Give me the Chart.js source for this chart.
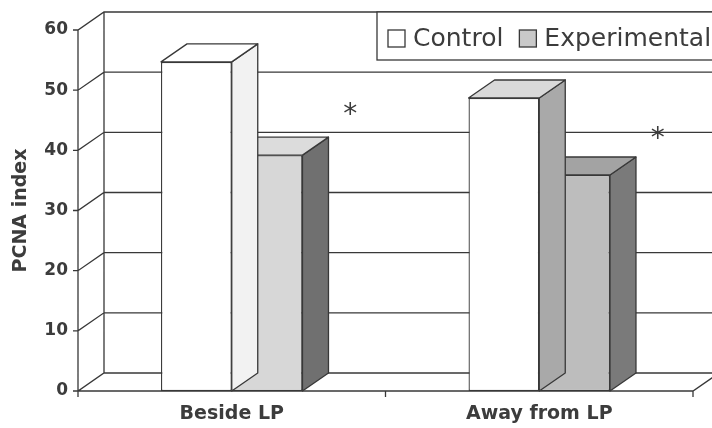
<!DOCTYPE html>
<html>
<head>
<meta charset="utf-8">
<script src="https://cdn.jsdelivr.net/npm/chart.js@4/dist/chart.umd.min.js"></script>
<style>
  body { margin: 0; background: #fff; }
  canvas { display: block; }
</style>
</head>
<body>
<canvas id="chart" width="712" height="428"></canvas>
<script>
// Data
const categories = ['Beside LP', 'Away from LP'];
const seriesNames = ['Control', 'Experimental'];
const controlValues = [54.7, 48.7];
const experimentalValues = [39.2, 35.9];
const yTicks = [0, 10, 20, 30, 40, 50, 60];
const starValues = [47, 43]; // height of the "*" mark beside each group

// Styling
const LINE = '#383838';
const TEXT = '#3c3c3c';
const DEPTH = { dx: 26, dy: -18 };
const faceColors = [
    { front: ['#ffffff', '#ffffff'], top: ['#ffffff', '#d9d9d9'], side: ['#f2f2f2', '#a9a9a9'] },
    { front: ['#d7d7d7', '#bdbdbd'], top: ['#dcdcdc', '#a3a3a3'], side: ['#707070', '#7a7a7a'] }
];
const legendSwatch = ['#ffffff', '#c9c9c9'];

// Walls, floor and gridlines behind the bars
const wallsPlugin = {
    id: 'walls',
    beforeDatasetsDraw(chart) {
        const { ctx, chartArea: a, scales: { x, y } } = chart;
        const y0 = y.getPixelForValue(yTicks[0]);
        const yTop = y.getPixelForValue(yTicks[yTicks.length - 1]);
        ctx.save();
        ctx.strokeStyle = LINE;
        ctx.lineWidth = 1.3;
        ctx.beginPath();
        yTicks.forEach(v => {
            const py = y.getPixelForValue(v);
            ctx.moveTo(a.left - 5, py);
            ctx.lineTo(a.left, py);
            ctx.lineTo(a.left + DEPTH.dx, py + DEPTH.dy);
            ctx.lineTo(a.right + DEPTH.dx, py + DEPTH.dy);
        });
        // front axis and back wall edge
        ctx.moveTo(a.left, yTop);
        ctx.lineTo(a.left, y0 + 6);
        ctx.moveTo(a.left + DEPTH.dx, yTop + DEPTH.dy);
        ctx.lineTo(a.left + DEPTH.dx, y0 + DEPTH.dy);
        // floor front edge and right side
        ctx.moveTo(a.left, y0);
        ctx.lineTo(a.right, y0);
        ctx.lineTo(a.right + DEPTH.dx, y0 + DEPTH.dy);
        // category ticks
        const catW = (a.right - a.left) / categories.length;
        for (let i = 1; i <= categories.length; i++) {
            const px = a.left + catW * i;
            ctx.moveTo(px, y0);
            ctx.lineTo(px, y0 + 6);
        }
        ctx.stroke();
        ctx.restore();
    }
};

// Top and side faces of each bar
const barFacesPlugin = {
    id: 'barFaces',
    afterDatasetDraw(chart, args) {
        const { ctx } = chart;
        const colors = faceColors[args.index];
        ctx.save();
        ctx.strokeStyle = LINE;
        ctx.lineWidth = 1.3;
        ctx.lineJoin = 'round';
        args.meta.data.forEach((bar, i) => {
            const { x, y, width, base } = bar.getProps(['x', 'y', 'width', 'base'], true);
            const l = x - width / 2, r = x + width / 2;
            ctx.fillStyle = colors.side[i];
            ctx.beginPath();
            ctx.moveTo(r, y);
            ctx.lineTo(r + DEPTH.dx, y + DEPTH.dy);
            ctx.lineTo(r + DEPTH.dx, base + DEPTH.dy);
            ctx.lineTo(r, base);
            ctx.closePath();
            ctx.fill();
            ctx.stroke();
            ctx.fillStyle = colors.top[i];
            ctx.beginPath();
            ctx.moveTo(l, y);
            ctx.lineTo(r, y);
            ctx.lineTo(r + DEPTH.dx, y + DEPTH.dy);
            ctx.lineTo(l + DEPTH.dx, y + DEPTH.dy);
            ctx.closePath();
            ctx.fill();
            ctx.stroke();
        });
        ctx.restore();
    }
};

// Asterisks and legend box
const overlayPlugin = {
    id: 'overlay',
    afterDraw(chart) {
        const { ctx, chartArea: a, scales: { x, y } } = chart;
        const catW = (a.right - a.left) / categories.length;
        ctx.save();
        ctx.fillStyle = TEXT;
        ctx.font = '28px "DejaVu Sans"';
        ctx.textAlign = 'center';
        ctx.textBaseline = 'alphabetic';
        starValues.forEach((v, i) => {
            ctx.fillText('*', x.getPixelForValue(i) + 0.385 * catW, y.getPixelForValue(v) + 15);
        });

        // legend
        ctx.fillStyle = '#fff';
        ctx.strokeStyle = LINE;
        ctx.lineWidth = 1.3;
        ctx.fillRect(377, 12, 360, 48);
        ctx.strokeRect(377, 12, 360, 48);
        ctx.font = '25px "DejaVu Sans"';
        ctx.textAlign = 'left';
        let lx = 388;
        seriesNames.forEach((name, i) => {
            ctx.fillStyle = legendSwatch[i];
            ctx.fillRect(lx, 30, 17, 17);
            ctx.strokeRect(lx, 30, 17, 17);
            ctx.fillStyle = TEXT;
            ctx.fillText(name, lx + 25, 46);
            lx += 25 + ctx.measureText(name).width + 16;
        });
        ctx.restore();
    }
};

new Chart(document.getElementById('chart'), {
    type: 'bar',
    data: {
        labels: categories,
        datasets: [
            { label: seriesNames[0], data: controlValues, backgroundColor: faceColors[0].front },
            { label: seriesNames[1], data: experimentalValues, backgroundColor: faceColors[1].front }
        ]
    },
    options: {
        responsive: false,
        animation: false,
        layout: { padding: { top: 30, right: 19, left: 0, bottom: 0 } },
        datasets: {
            bar: {
                categoryPercentage: 0.46,
                barPercentage: 1,
                borderColor: LINE,
                borderWidth: 1.3,
                borderSkipped: false
            }
        },
        plugins: {
            legend: { display: false },
            tooltip: { enabled: false }
        },
        scales: {
            x: {
                grid: { display: false, drawTicks: false },
                border: { display: false },
                ticks: { color: TEXT, padding: 12, font: { family: 'DejaVu Sans', size: 19, weight: 'bold' } },
                afterFit(scale) { scale.height = 37; }
            },
            y: {
                min: 0,
                max: 60,
                grid: { display: false, drawTicks: false },
                border: { display: false },
                afterBuildTicks(scale) { scale.ticks = yTicks.map(v => ({ value: v })); },
                ticks: { color: TEXT, padding: 10, font: { family: 'DejaVu Sans', size: 17, weight: 'bold' } },
                title: {
                    display: true,
                    text: 'PCNA index',
                    color: TEXT,
                    padding: { top: 10, bottom: 0 },
                    font: { family: 'DejaVu Sans', size: 19, weight: 'bold' }
                },
                afterFit(scale) { scale.width = 78; }
            }
        }
    },
    plugins: [wallsPlugin, barFacesPlugin, overlayPlugin]
});
</script>
</body>
</html>
